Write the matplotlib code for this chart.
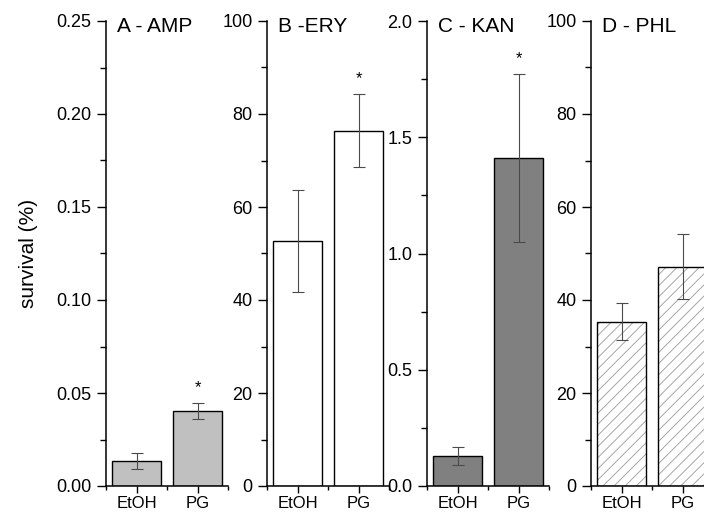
import matplotlib
matplotlib.use("Agg")
import matplotlib.pyplot as plt
from matplotlib.ticker import MultipleLocator, FixedLocator

plt.rcParams['font.family'] = ['Liberation Sans', 'DejaVu Sans']
plt.rcParams['hatch.linewidth'] = 0.7

# dados
grupos = ['EtOH', 'PG']
titulos = ['A - AMP', 'B -ERY', 'C - KAN', 'D - PHL']
medias = [[0.0134, 0.0403], [52.7, 76.4], [0.129, 1.41], [35.3, 47.2]]
erros = [[0.0044, 0.0043], [11.0, 7.8], [0.04, 0.36], [4.0, 7.0]]
significativo = [[False, True], [False, True], [False, True], [False, False]]
ylims = [0.25, 100, 2.0, 100]
passo_maior = [0.05, 20, 0.5, 20]
formatos = ['%.2f', '%d', '%.1f', '%d']

cores = ['#c0c0c0', 'white', '#808080', 'white']
hachuras = [None, None, None, '///']

fig = plt.figure(figsize=(7.04, 5.15), dpi=100)
esquerdas = [106, 267, 427, 591]

for i in range(4):
    ax = fig.add_axes([esquerdas[i] / 704, 1 - 486 / 515, 122 / 704, 465 / 515])
    x = list(range(len(grupos)))
    if hachuras[i]:
        # hachura cinza clara por baixo, contorno preto por cima
        ax.bar(x, medias[i], width=0.8, color=cores[i], edgecolor='#a6a6a6',
               linewidth=0, hatch=hachuras[i], zorder=2)
        ax.bar(x, medias[i], width=0.8, fill=False, edgecolor='black',
               linewidth=1.0, zorder=2)
    else:
        ax.bar(x, medias[i], width=0.8, color=cores[i], edgecolor='black',
               linewidth=1.0, zorder=2)
    ax.errorbar(x, medias[i], yerr=erros[i], fmt='none', ecolor='#4a4a4a',
                elinewidth=0.8, capsize=4, capthick=0.8, zorder=3)
    for j in x:
        if significativo[i][j]:
            ax.annotate('*', (j, medias[i][j] + erros[i][j]), xytext=(0, 6),
                        textcoords='offset points', ha='center', va='bottom',
                        fontsize=12)

    ax.set_xlim(-0.5, 1.5)
    ax.set_ylim(0, ylims[i])
    ax.set_xticks(x)
    ax.set_xticklabels(grupos, fontsize=12)
    ax.xaxis.set_minor_locator(FixedLocator([-0.5, 0.5, 1.5]))
    ax.yaxis.set_major_locator(MultipleLocator(passo_maior[i]))
    ax.yaxis.set_minor_locator(MultipleLocator(passo_maior[i] / 2))
    ax.yaxis.set_major_formatter(matplotlib.ticker.FormatStrFormatter(formatos[i]))
    ax.tick_params(axis='y', which='major', direction='out', length=6.5, width=1.0, labelsize=13, pad=4)
    ax.tick_params(axis='y', which='minor', direction='out', length=4, width=1.0)
    ax.tick_params(axis='x', which='major', direction='out', length=5, width=1.0, pad=2)
    ax.tick_params(axis='x', which='minor', direction='out', length=3, width=1.0)

    for lado in ['top', 'right']:
        ax.spines[lado].set_visible(False)
    for lado in ['left', 'bottom']:
        ax.spines[lado].set_linewidth(1.1)
    ax.patch.set_alpha(0)

    ax.text(0.09, 0.988, titulos[i], transform=ax.transAxes, fontsize=15,
            ha='left', va='center')

    if i == 0:
        ax.set_ylabel('survival (%)', fontsize=15, labelpad=13)

fig.savefig('out.png', dpi=100)
